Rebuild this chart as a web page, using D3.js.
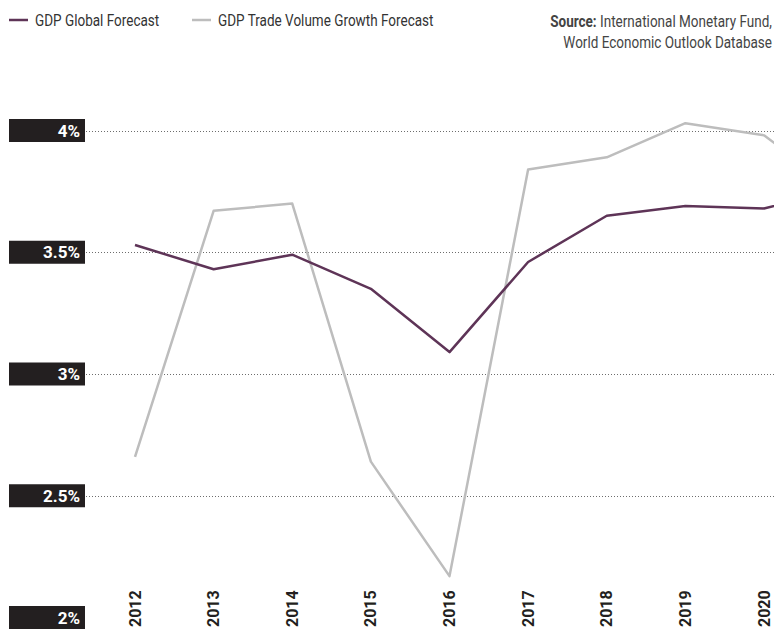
<!DOCTYPE html>
<html>
<head>
<meta charset="utf-8">
<script src="https://cdn.jsdelivr.net/npm/d3@7"></script>
<style>
  body { margin: 0; background: #fff; }
  svg { display: block; font-family: "Roboto", sans-serif; }
</style>
</head>
<body>
<svg id="chart"></svg>
<script>
var width = 774, height = 630;
var condense = 0.82; // 参考图用的是窄体字

// data
var years = [2012, 2013, 2014, 2015, 2016, 2017, 2018, 2019, 2020, 2021];
var gdpGlobal = [3.53, 3.43, 3.49, 3.35, 3.09, 3.46, 3.65, 3.69, 3.68, 3.76];
var tradeVolume = [2.66, 3.67, 3.70, 2.64, 2.17, 3.84, 3.89, 4.03, 3.98, 3.74];
var yTicks = [2, 2.5, 3, 3.5, 4];
var tickYears = years.slice(0, 9);

var series = [
  {name: "GDP Global Forecast", values: gdpGlobal, color: "#5e3457"},
  {name: "GDP Trade Volume Growth Forecast", values: tradeVolume, color: "#bdbdbd"}
];

var svg = d3.select("#chart")
  .attr("width", width)
  .attr("height", height);

var x = d3.scaleLinear().domain([2012, 2020]).range([135, 764]);
var y = d3.scaleLinear().domain([2, 4]).range([617.5, 130.5]);

//网格线
var grid = svg.append("g");
grid.selectAll("line").data(yTicks.filter(function(d){ return d > 2; }))
  .enter().append("line")
  .attr("x1", 86).attr("x2", width)
  .attr("y1", function(d){ return Math.round(y(d)) + 0.5; })
  .attr("y2", function(d){ return Math.round(y(d)) + 0.5; })
  .attr("stroke", "#6d6d6d")
  .attr("stroke-width", 1)
  .attr("stroke-dasharray", "1,2");

//y轴标签
var ylab = svg.append("g").selectAll("g").data(yTicks)
  .enter().append("g")
  .attr("transform", function(d){ return "translate(0," + y(d) + ")"; });
ylab.append("rect")
  .attr("x", 9).attr("y", -11.5)
  .attr("width", 76).attr("height", 23)
  .attr("fill", "#231f20");
ylab.append("text")
  .attr("x", 80).attr("y", 6)
  .attr("text-anchor", "end")
  .attr("fill", "#fff")
  .attr("font-size", 17)
  .attr("font-weight", "bold")
  .text(function(d){ return d + "%"; });

//x轴标签
svg.append("g").selectAll("text").data(tickYears)
  .enter().append("text")
  .attr("transform", function(d){ return "translate(" + (x(d) + 5.5) + ",627) rotate(-90)"; })
  .attr("fill", "#231f20")
  .attr("font-size", 16)
  .attr("font-weight", "bold")
  .text(function(d){ return d; });

//折线
var line = d3.line()
  .x(function(d, i){ return x(years[i]); })
  .y(function(d){ return y(d); });

svg.append("g").selectAll("path").data(series.slice().reverse())
  .enter().append("path")
  .attr("d", function(d){ return line(d.values); })
  .attr("fill", "none")
  .attr("stroke", function(d){ return d.color; })
  .attr("stroke-width", 2.5)
  .attr("stroke-linejoin", "round");

//图例
var legendX = [9, 192];
var legend = svg.append("g").selectAll("g").data(series)
  .enter().append("g")
  .attr("transform", function(d, i){ return "translate(" + legendX[i] + ",20)"; });
legend.append("line")
  .attr("x1", 0).attr("x2", 19)
  .attr("stroke", function(d){ return d.color; })
  .attr("stroke-width", 2.5);
legend.append("text")
  .attr("transform", "translate(26,6) scale(" + condense + ",1)")
  .attr("fill", "#333")
  .attr("font-size", 16.5)
  .text(function(d){ return d.name; });

//数据来源
var src = svg.append("text")
  .attr("transform", "translate(772,0) scale(" + condense + ",1)")
  .attr("text-anchor", "end")
  .attr("fill", "#444")
  .attr("font-size", 16.5);
var l1 = src.append("tspan").attr("x", 0).attr("y", 26.7);
l1.append("tspan").attr("font-weight", "bold").text("Source:");
l1.append("tspan").text(" International Monetary Fund,");
src.append("tspan").attr("x", 0).attr("y", 48.5).text("World Economic Outlook Database");
</script>
</body>
</html>
